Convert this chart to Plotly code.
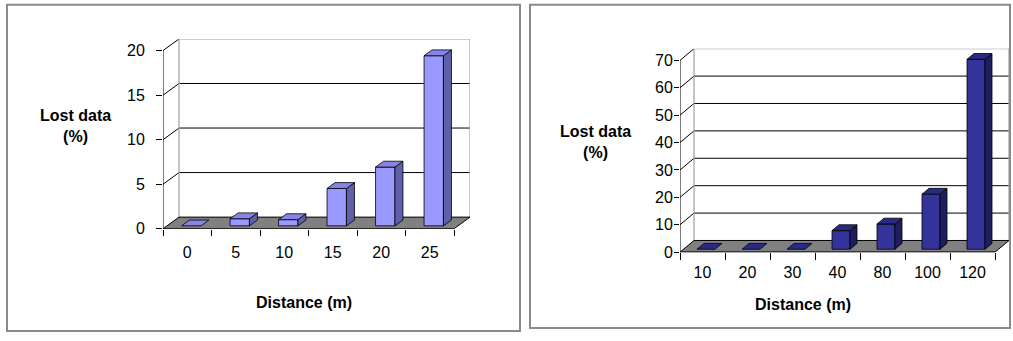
import plotly.graph_objects as go

# ---------------- data ----------------
left_categories = ["0", "5", "10", "15", "20", "25"]
left_values = [0, 0.8, 0.7, 4.2, 6.6, 19.1]
left_yticks = [0, 5, 10, 15, 20]

right_categories = ["10", "20", "30", "40", "80", "100", "120"]
right_values = [0, 0, 0, 6.8, 9.2, 20.1, 69.3]
right_yticks = [0, 10, 20, 30, 40, 50, 60, 70]

y_title = "Lost data<br>(%)"
x_title = "Distance (m)"

# ---------------- layout geometry (pixels) ----------------
W, H = 1013, 341
FONT = "Arial, Liberation Sans, sans-serif"

panels = [
    dict(cats=left_categories, vals=left_values, ticks=left_yticks, ymax=20,
         x0=163, x1=470, y0=235, y1=40, dxp=16, dyp=12,
         front="#9999FF", top="#8585E6", side="#5F5FAA",
         ytl=(75, 129), xtl=(304, 311), yticklen=6, xticklen=6, xstand=12, ystand=8,
         border=(7, 5, 520, 340)),
    dict(cats=right_categories, vals=right_values, ticks=right_yticks, ymax=70,
         x0=680, x1=1009, y0=259, y1=50, dxp=14, dyp=12,
         front="#333399", top="#2A2A85", side="#1E1E5E",
         ytl=(595, 146), xtl=(803, 313), yticklen=5, xticklen=7, xstand=9, ystand=-2,
         border=(530, 5, 1010, 337)),
]

fig = go.Figure()
layout_axes = {}
shapes = []
annotations = []


def px(x):
    return x / W


def py(y):
    return 1 - y / H


for k, p in enumerate(panels):
    n = len(p["cats"])
    DX = p["dxp"] * n / (p["x1"] - p["x0"] - p["dxp"])
    DY = p["dyp"] * p["ymax"] / (p["y0"] - p["y1"] - p["dyp"])
    xa = "x" if k == 0 else "x2"
    ya = "y" if k == 0 else "y2"
    xr = [-0.5, n - 0.5 + DX]
    yr = [0, p["ymax"] + DY]

    def add_lines(segs, color, width):
        xs, ys = [], []
        for (a, b), (c, d) in segs:
            xs += [a, c, None]
            ys += [b, d, None]
        fig.add_trace(go.Scatter(x=xs, y=ys, mode="lines", xaxis=xa, yaxis=ya,
                                 line=dict(color=color, width=width),
                                 hoverinfo="skip", showlegend=False))

    def add_polys(polys, fill, line_color="#000000", width=0.8):
        xs, ys = [], []
        for poly in polys:
            for (a, b) in poly:
                xs.append(a)
                ys.append(b)
            xs.append(poly[0][0])
            ys.append(poly[0][1])
            xs.append(None)
            ys.append(None)
        fig.add_trace(go.Scatter(x=xs, y=ys, mode="lines", fill="toself",
                                 fillcolor=fill, xaxis=xa, yaxis=ya,
                                 line=dict(color=line_color, width=width),
                                 hoverinfo="skip", showlegend=False))

    L, R = -0.5, n - 0.5
    top = p["ticks"][-1]
    # back-wall gridlines and side-wall diagonals
    grid = [((L + DX, v + DY), (R + DX, v + DY)) for v in p["ticks"][1:-1]]
    diag = [((L, v), (L + DX, v + DY)) for v in p["ticks"][1:]]
    add_lines(grid, "#000000", 1)
    add_lines(diag, "#000000", 1)
    # wall border
    add_lines([((L + DX, DY), (L + DX, top + DY)),
               ((L + DX, top + DY), (R + DX, top + DY)),
               ((R + DX, DY), (R + DX, top + DY))], "#A0A0A0", 1.2)
    # floor
    add_polys([[(L, 0), (R, 0), (R + DX, DY), (L + DX, DY)]], "#808080", "#000000", 1)
    # front value-axis line
    add_lines([((L, 0), (L, top))], "#000000", 1)

    # 3-D bars
    w = 0.4
    f0, f1 = 0.25, 0.75
    fronts, tops, sides = [], [], []
    for i, v in enumerate(p["vals"]):
        xl = i - w / 2 + f0 * DX
        xrr = i + w / 2 + f0 * DX
        yb = f0 * DY
        yt = yb + v
        ddx = (f1 - f0) * DX
        ddy = (f1 - f0) * DY
        if v > 0:
            fronts.append([(xl, yb), (xrr, yb), (xrr, yt), (xl, yt)])
            sides.append([(xrr, yb), (xrr + ddx, yb + ddy), (xrr + ddx, yt + ddy), (xrr, yt)])
        tops.append([(xl, yt), (xrr, yt), (xrr + ddx, yt + ddy), (xl + ddx, yt + ddy)])
    add_polys(fronts, p["front"])
    add_polys(sides, p["side"])
    add_polys(tops, p["top"])

    xkey = "xaxis" if k == 0 else "xaxis2"
    ykey = "yaxis" if k == 0 else "yaxis2"
    layout_axes[xkey] = dict(
        domain=[px(p["x0"]), px(p["x1"])], range=xr, anchor=ya,
        showgrid=False, zeroline=False, showline=False,
        tickmode="array", tickvals=list(range(n)), ticktext=p["cats"],
        ticks="", ticklabelstandoff=p["xstand"],
        tickfont=dict(family=FONT, size=16, color="#000000"),
        minor=dict(ticks="outside", tick0=-0.5, dtick=1, ticklen=p["xticklen"],
                   tickcolor="#000000", tickwidth=1, showgrid=False),
        fixedrange=True,
    )
    layout_axes[ykey] = dict(
        domain=[py(p["y0"]), py(p["y1"])], range=yr, anchor=xa,
        showgrid=False, zeroline=False, showline=False,
        tickmode="array", tickvals=p["ticks"],
        ticks="outside", ticklen=p["yticklen"], tickcolor="#000000", tickwidth=1,
        ticklabelstandoff=p["ystand"],
        tickfont=dict(family=FONT, size=16, color="#000000"),
        fixedrange=True,
    )
    # front category-axis line
    add_lines([((L, 0), (R, 0))], "#000000", 1)

    annotations.append(dict(text="<b>" + y_title + "</b>", x=px(p["ytl"][0]), y=py(p["ytl"][1]),
                            xref="paper", yref="paper", showarrow=False,
                            font=dict(family=FONT, size=16, color="#000000"),
                            xanchor="center", yanchor="middle", align="center"))
    annotations.append(dict(text="<b>" + x_title + "</b>", x=px(p["xtl"][0]), y=py(p["xtl"][1]),
                            xref="paper", yref="paper", showarrow=False,
                            font=dict(family=FONT, size=16, color="#000000"),
                            xanchor="center", yanchor="middle"))
    bx0, by0, bx1, by1 = p["border"]
    shapes.append(dict(type="rect", xref="paper", yref="paper",
                       x0=px(bx0), x1=px(bx1), y0=py(by1), y1=py(by0),
                       line=dict(color="#8A8A8A", width=2), fillcolor="rgba(0,0,0,0)",
                       layer="below"))

fig.update_layout(
    width=W, height=H, margin=dict(l=0, r=0, t=0, b=0),
    paper_bgcolor="#FFFFFF", plot_bgcolor="rgba(0,0,0,0)",
    showlegend=False, shapes=shapes, annotations=annotations,
    **layout_axes,
)

fig.write_html("out.html")
